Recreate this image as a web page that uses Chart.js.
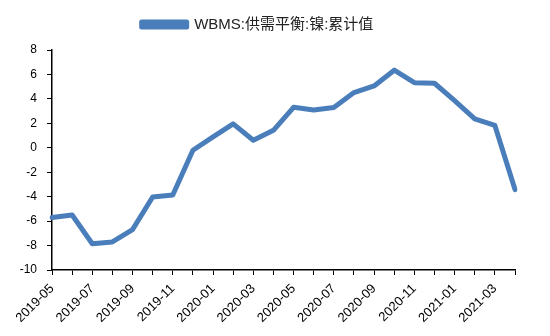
<!DOCTYPE html>
<html><head><meta charset="utf-8">
<script src="https://cdn.jsdelivr.net/npm/chart.js@4"></script>
<style>html,body{margin:0;padding:0;background:#fff}#w{width:550px;height:336px}</style>
</head><body><div id="w"><canvas id="c"></canvas></div>
<script>
const categories = ["2019-05","2019-06","2019-07","2019-08","2019-09","2019-10","2019-11","2019-12",
"2020-01","2020-02","2020-03","2020-04","2020-05","2020-06","2020-07","2020-08","2020-09","2020-10",
"2020-11","2020-12","2021-01","2021-02","2021-03","2021-04"];
const seriesName = "WBMS:供需平衡:镍:累计值";
const seriesValues = [-5.7,-5.5,-7.85,-7.7,-6.7,-4.03,-3.87,-0.2,0.89,1.96,0.62,1.43,3.31,3.09,3.3,4.52,5.06,6.35,5.33,5.28,3.85,2.37,1.83,-3.42];
const yTicks = [-10,-8,-6,-4,-2,0,2,4,6,8];
const color = "#4A7EBB";
const yFont = {family:"'Liberation Sans', Arial, sans-serif", size:12};
const xFont = {family:"'Liberation Sans', Arial, sans-serif", size:13};
const legendGap = {
  id:'legendGap',
  afterInit(chart){
    const lg = chart.legend;
    if(lg && !lg._patched){
      const orig = lg.fit;
      lg.fit = function(){ orig.call(this); this.height += 8; };
      lg._patched = true;
    }
  }
};
new Chart(document.getElementById('c'), {
  type:'line',
  data:{labels:categories, datasets:[{label:seriesName, data:seriesValues, borderColor:color, backgroundColor:color, borderWidth:5, pointRadius:0, tension:0, borderJoinStyle:'round', borderCapStyle:'round'}]},
  options:{
    responsive:true, maintainAspectRatio:false, animation:false,
    layout:{padding:{left:0,right:35,top:7,bottom:0}},
    plugins:{
      tooltip:{enabled:false},
      legend:{display:true, position:'top',
        labels:{boxWidth:45, boxHeight:5, color:'#222', padding:10,
          font:{family:"'Liberation Sans','Noto Sans CJK SC',sans-serif", size:15}}}
    },
    scales:{
      x:{offset:false,
        grid:{display:true, drawOnChartArea:false, color:'#000', tickLength:5, lineWidth:1},
        border:{display:true, color:'#000', width:1.5},
        ticks:{autoSkip:false, maxRotation:45, minRotation:45, color:'#000', font:xFont, padding:6,
          callback:function(v,i){return i%2===0?categories[i]:'';}},
        afterFit:function(s){s.height=66;}
      },
      y:{min:-10,max:8,
        grid:{display:true, drawOnChartArea:false, color:'#000', tickLength:5, lineWidth:1},
        border:{display:true, color:'#000', width:1.5},
        ticks:{stepSize:2, color:'#000', font:yFont, padding:10,
          callback:function(v){return yTicks.includes(v)?String(v):'';}},
        afterFit:function(s){s.width=52;}
      }
    }
  },
  plugins:[legendGap]
});
</script></body></html>
